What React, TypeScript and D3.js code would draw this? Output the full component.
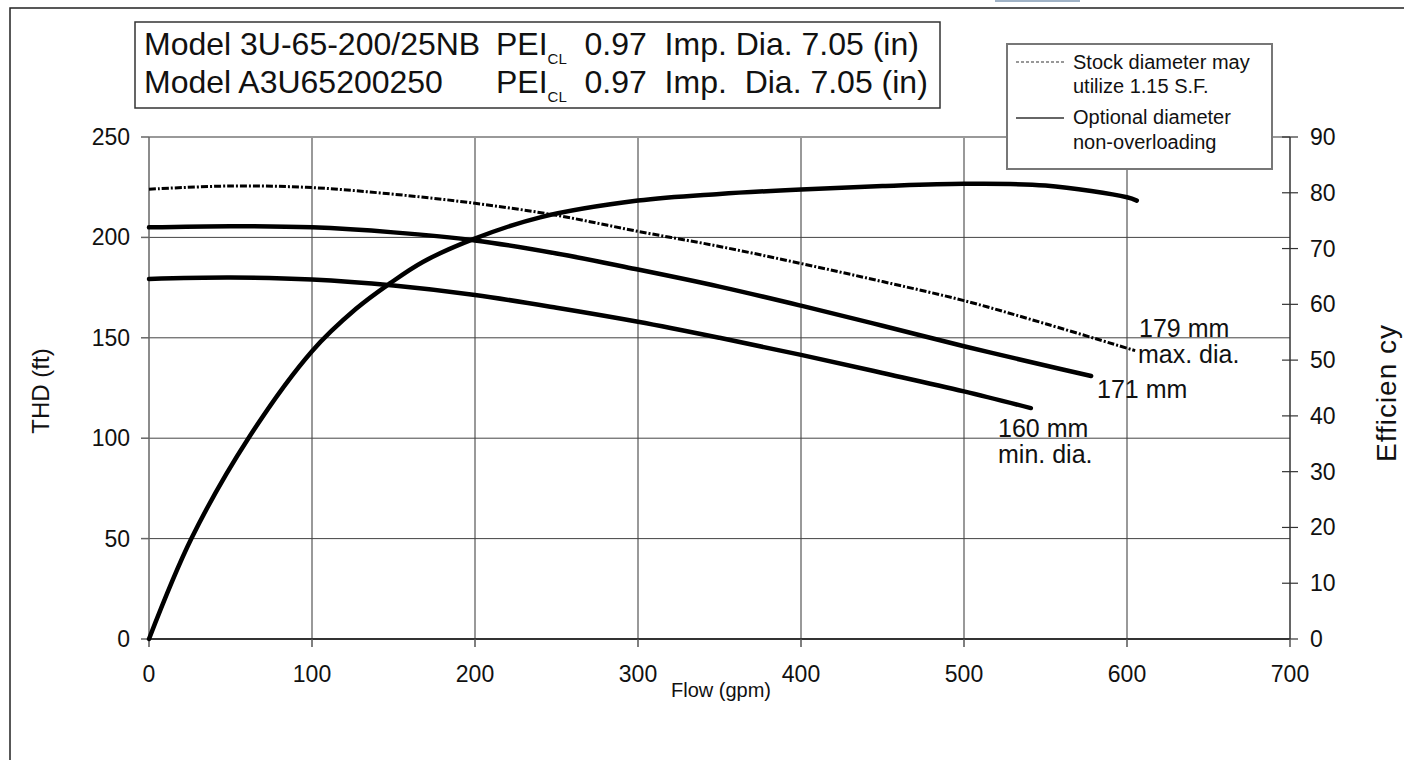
import React from "react";
import * as d3 from "d3";

// ---- data ----
const flowTicks = [0, 100, 200, 300, 400, 500, 600, 700];
const headTicks = [0, 50, 100, 150, 200, 250];
const effTicks = [0, 10, 20, 30, 40, 50, 60, 70, 80, 90];

// head curves: [gpm, ft]
const head179: [number, number][] = [
  [0, 224], [50, 225.6], [100, 224.8], [150, 221.5], [200, 217], [250, 211],
  [300, 203], [350, 195.5], [400, 187], [450, 178], [500, 168.5], [550, 157], [605, 143.6],
];
const head171: [number, number][] = [
  [0, 205], [50, 205.6], [100, 205], [150, 202.5], [200, 198.5], [250, 192],
  [300, 184], [350, 175.5], [400, 166], [450, 156], [500, 145.8], [550, 136.2], [578, 131],
];
const head160: [number, number][] = [
  [0, 179.3], [50, 180], [100, 179], [150, 176], [200, 171.3], [250, 165],
  [300, 158], [350, 150], [400, 141.5], [450, 132.5], [500, 123.3], [541, 115],
];
// efficiency curve: [gpm, %]
const efficiency: [number, number][] = [
  [0, 0], [26, 18], [61, 36], [100, 51.6], [127, 59.2], [148, 63.8], [168, 67.6],
  [199, 71.7], [240, 75.6], [300, 78.6], [350, 79.8], [400, 80.6], [450, 81.2],
  [500, 81.6], [550, 81.3], [600, 79.2], [606, 78.6],
];

const FONT = "'Liberation Sans', Arial, Helvetica, sans-serif";

export default function App() {
  const x = d3.scaleLinear().domain([0, 700]).range([149, 1290]);
  const yL = d3.scaleLinear().domain([0, 250]).range([639, 137]);
  const yR = d3.scaleLinear().domain([0, 90]).range([639, 137]);

  const headLine = d3
    .line<[number, number]>()
    .x((d) => x(d[0]))
    .y((d) => yL(d[1]))
    .curve(d3.curveCatmullRom.alpha(0.5));
  const effLine = d3
    .line<[number, number]>()
    .x((d) => x(d[0]))
    .y((d) => yR(d[1]))
    .curve(d3.curveCatmullRom.alpha(0.5));

  const [x0, x1] = x.range();
  const [yb, yt] = yL.range();

  return (
    <svg
      width={1404}
      height={760}
      style={{ position: "absolute", left: 0, top: 0, background: "#fff" }}
      fontFamily={FONT}
    >
      <rect x={0} y={0} width={1404} height={760} fill="#fff" />
      <rect x={995} y={0} width={85} height={2} fill="#9fb2c6" />
      {/* outer frame */}
      <path d="M10,760 L10,8 L1404,8" fill="none" stroke="#222" strokeWidth={1.5} />

      {/* vertical grid */}
      {flowTicks.slice(1, -1).map((t) => (
        <line key={"vg" + t} x1={x(t)} x2={x(t)} y1={yt} y2={yb} stroke="#777" strokeWidth={1.5} />
      ))}
      {/* horizontal grid */}
      {headTicks.slice(1, -1).map((t) => (
        <line key={"hg" + t} x1={x0} x2={x1} y1={yL(t)} y2={yL(t)} stroke="#444" strokeWidth={1} />
      ))}
      {/* top border */}
      <line x1={x0} x2={x1} y1={yt} y2={yt} stroke="#999" strokeWidth={2} />
      {/* left axis */}
      <line x1={x0} x2={x0} y1={yt} y2={yb} stroke="#666" strokeWidth={1.5} />
      {headTicks.map((t) => (
        <line key={"lt" + t} x1={x0 - 8} x2={x0} y1={yL(t)} y2={yL(t)} stroke="#666" strokeWidth={1.5} />
      ))}
      {/* right axis */}
      <line x1={x1} x2={x1} y1={yt} y2={yb} stroke="#333" strokeWidth={1.5} />
      {effTicks.map((t) => (
        <line key={"rt" + t} x1={x1 - 8} x2={x1 + 8} y1={yR(t)} y2={yR(t)} stroke="#333" strokeWidth={1.2} />
      ))}
      {/* bottom axis */}
      <line x1={x0} x2={x1} y1={yb} y2={yb} stroke="#333" strokeWidth={1.8} />
      {flowTicks.map((t) => (
        <line key={"bt" + t} x1={x(t)} x2={x(t)} y1={yb} y2={yb + 8} stroke="#555" strokeWidth={1.5} />
      ))}

      {/* tick labels */}
      {flowTicks.map((t) => (
        <text key={"bl" + t} x={x(t)} y={yb + 43} fontSize={23} textAnchor="middle" fill="#111">
          {t}
        </text>
      ))}
      {headTicks.map((t) => (
        <text key={"ll" + t} x={x0 - 19} y={yL(t) + 8} fontSize={23} textAnchor="end" fill="#111">
          {t}
        </text>
      ))}
      {effTicks.map((t) => (
        <text key={"rl" + t} x={x1 + 20} y={yR(t) + 8} fontSize={23} textAnchor="start" fill="#111">
          {t}
        </text>
      ))}

      {/* axis titles */}
      <text x={721} y={697} fontSize={20} textAnchor="middle" fill="#111">
        Flow (gpm)
      </text>
      <text transform={`translate(49,391) rotate(-90)`} fontSize={24} textAnchor="middle" fill="#111">
        THD (ft)
      </text>
      <text transform={`translate(1396,393) rotate(-90)`} fontSize={28} textAnchor="middle" fill="#111" letterSpacing={1}>
        Efficien cy
      </text>

      {/* curves */}
      <path d={headLine(head179) || ""} fill="none" stroke="#000" strokeWidth={3} strokeDasharray="7 2 2 2" />
      <path d={headLine(head171) || ""} fill="none" stroke="#000" strokeWidth={4.5} strokeLinecap="round" />
      <path d={headLine(head160) || ""} fill="none" stroke="#000" strokeWidth={4.5} strokeLinecap="round" />
      <path d={effLine(efficiency) || ""} fill="none" stroke="#000" strokeWidth={4.5} strokeLinecap="round" />

      {/* curve labels */}
      <g fontSize={25} fill="#111">
        <text x={1139} y={337}>179 mm</text>
        <text x={1138} y={363}>max. dia.</text>
        <text x={1097} y={398}>171 mm</text>
        <text x={998} y={437}>160 mm</text>
        <text x={998} y={463}>min. dia.</text>
      </g>

      {/* title box */}
      <rect x={135} y={22} width={805} height={86} fill="#fff" stroke="#333" strokeWidth={1.5} />
      <g fontSize={32} fill="#111" style={{ whiteSpace: "pre" }}>
        <text x={144} y={55}>Model 3U-65-200/25NB</text>
        <text x={496} y={55} xmlSpace="preserve">
          PEI
          <tspan fontSize={15} dy={9}>CL</tspan>
          <tspan dy={-9}>{"  0.97  Imp. Dia. 7.05 (in)"}</tspan>
        </text>
        <text x={144} y={93}>Model A3U65200250</text>
        <text x={496} y={93} xmlSpace="preserve">
          PEI
          <tspan fontSize={15} dy={9}>CL</tspan>
          <tspan dy={-9}>{"  0.97  Imp.  Dia. 7.05 (in)"}</tspan>
        </text>
      </g>

      {/* legend */}
      <rect x={1007} y={44} width={265} height={125} fill="#fff" stroke="#777" strokeWidth={2} />
      <line x1={1016} x2={1064} y1={62} y2={62} stroke="#333" strokeWidth={1.2} strokeDasharray="3 2" />
      <line x1={1016} x2={1064} y1={118} y2={118} stroke="#333" strokeWidth={1.5} />
      <g fontSize={20} fill="#111">
        <text x={1073} y={69}>Stock diameter may</text>
        <text x={1073} y={93}>utilize 1.15 S.F.</text>
        <text x={1073} y={124}>Optional diameter</text>
        <text x={1073} y={149}>non-overloading</text>
      </g>
    </svg>
  );
}
